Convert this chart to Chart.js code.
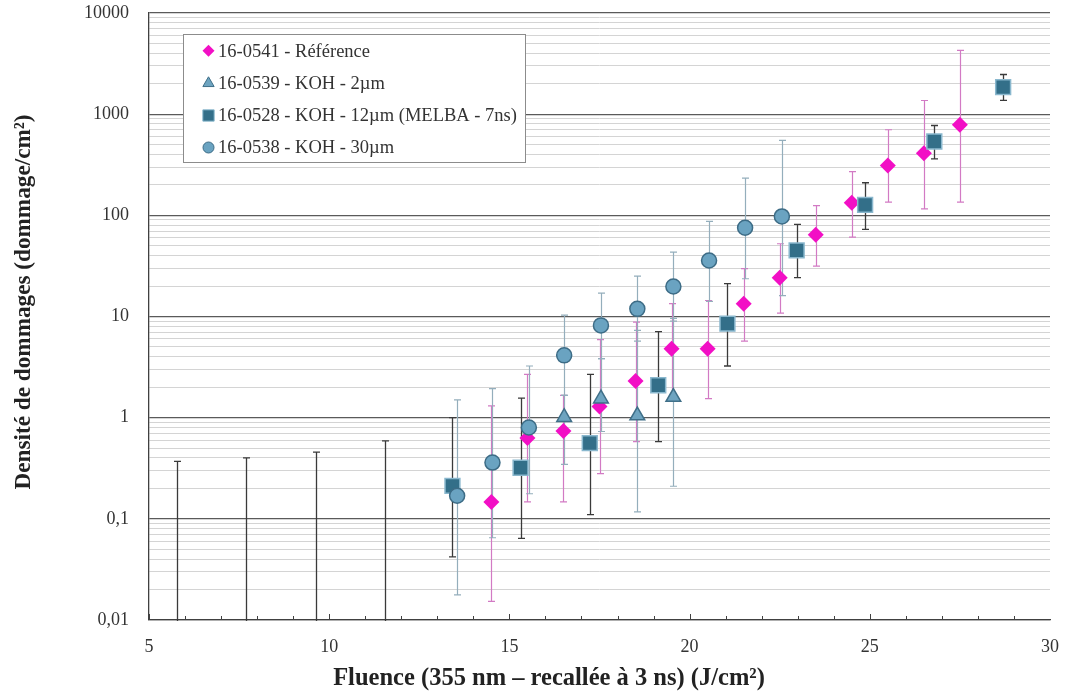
<!DOCTYPE html>
<html>
<head>
<meta charset="utf-8">
<script src="https://cdn.jsdelivr.net/npm/chart.js@4/dist/chart.umd.min.js"></script>
<style>
html,body{margin:0;padding:0;background:#fff;}
#c{display:block;}
</style>
</head>
<body>
<canvas id="c" width="1065" height="695"></canvas>
<script>
// ---- Data ----
const seriesNames = ["16-0541 - Référence", "16-0539 - KOH - 2µm", "16-0528 - KOH - 12µm (MELBA - 7ns)", "16-0538 - KOH - 30µm"];

const diamondX  = [14.5, 15.5, 16.5, 17.5, 18.5, 19.5, 20.5, 21.5, 22.5, 23.5, 24.5, 25.5, 26.5, 27.5];
const diamondY  = [0.147, 0.63, 0.74, 1.29, 2.30, 4.81, 4.8, 13.4, 24.2, 64.3, 133, 311, 412, 786];
const diamondLo = [0.0153, 0.147, 0.147, 0.28, 0.58, 1.6, 1.54, 5.7, 10.8, 31.5, 60.9, 135, 116, 135];
const diamondHi = [1.31, 2.68, 1.66, 5.9, 8.8, 13.4, 14.4, 29.7, 52.4, 125, 271, 701, 1365, 4265];

const triX  = [16.52, 17.54, 18.55, 19.55];
const triY  = [1.01, 1.54, 1.05, 1.60];
const triLo = [0.346, 0.73, 0.117, 0.21];
const triHi = [1.66, 3.83, 7.3, 9.6];

const squareX  = [5.77, 7.70, 9.62, 11.54, 13.42, 15.31, 17.23, 19.13, 21.05, 22.97, 24.87, 26.79, 28.70];
const squareY  = [null, null, null, null, 0.212, 0.32, 0.56, 2.09, 8.49, 45, 127, 537, 1849];
const squareLo = [0, 0, 0, 0, 0.042, 0.064, 0.110, 0.58, 3.24, 24.2, 72.6, 362, 1366];
const squareHi = [0.369, 0.40, 0.457, 0.59, 1.0, 1.56, 2.68, 7.1, 21.1, 81.3, 210, 773, 2467];

const circleX  = [13.55, 14.53, 15.54, 16.52, 17.54, 18.55, 19.55, 20.54, 21.54, 22.56];
const circleY  = [0.169, 0.36, 0.80, 4.13, 8.17, 11.9, 19.8, 35.8, 75.4, 97.5];
const circleLo = [0.0177, 0.065, 0.177, 1.66, 3.83, 5.7, 9.0, 14.1, 23.6, 16.1];
const circleHi = [1.5, 1.94, 3.24, 10.3, 17.0, 25.1, 43.3, 87, 233, 550];

const xMin = 5, xMax = 30;
const xLabelTicks = [5, 10, 15, 20, 25, 30];
const yMin = 0.01, yMax = 10000;
const yLabelTicks = [0.01, 0.1, 1, 10, 100, 1000, 10000];
const yTickText = ["0,01", "0,1", "1", "10", "100", "1000", "10000"];
const xTitle = "Fluence (355 nm – recallée à 3 ns) (J/cm²)";
const yTitle = "Densité de dommages (dommage/cm²)";

// ---- helpers ----
const pts = (xs, ys) => xs.map((x, i) => ({x: x, y: ys[i]}));
const isDecade = v => Math.abs(Math.log10(v) - Math.round(Math.log10(v))) < 1e-9;

const C = {
  diamond: '#F20FC5', diamondErr: '#D27AC4',
  tri: '#6EA4C0', triBorder: '#3F6F88', triErr: '#94AEBC',
  square: '#336F89', squareBorder: '#8AB8CE', squareErr: '#3A3A3A',
  circle: '#6AA3C1', circleBorder: '#3D6C86', circleErr: '#94AEBC'
};

const datasets = [
  { label: seriesNames[3], data: pts(circleX, circleY), errX: circleX, errLo: circleLo, errHi: circleHi, errColor: C.circleErr,
    pointStyle: 'circle', pointRadius: 7.5, backgroundColor: C.circle, borderColor: C.circleBorder, borderWidth: 1.5, order: 0 },
  { label: seriesNames[2], data: pts(squareX, squareY), errX: squareX, errLo: squareLo, errHi: squareHi, errColor: C.squareErr,
    pointStyle: 'rect', pointRadius: 10.5, backgroundColor: C.square, borderColor: C.squareBorder, borderWidth: 1.5, order: 1 },
  { label: seriesNames[1], data: pts(triX, triY), errX: triX, errLo: triLo, errHi: triHi, errColor: C.triErr,
    pointStyle: 'triangle', pointRadius: 8.5, backgroundColor: C.tri, borderColor: C.triBorder, borderWidth: 1.5, order: 2 },
  { label: seriesNames[0], data: pts(diamondX, diamondY), errX: diamondX, errLo: diamondLo, errHi: diamondHi, errColor: C.diamondErr,
    pointStyle: 'rectRot', pointRadius: 8, backgroundColor: C.diamond, borderColor: C.diamond, borderWidth: 0, order: 3 }
];

const errorBars = {
  id: 'errorBars',
  beforeDatasetsDraw(chart) {
    const {ctx, chartArea: a, scales: {x, y}} = chart;
    ctx.save();
    ctx.beginPath(); ctx.rect(a.left, a.top, a.right - a.left, a.bottom - a.top + 1); ctx.clip();
    const drawOrder = [3, 2, 0, 1];
    drawOrder.forEach(di => {
      const ds = chart.data.datasets[di];
      ctx.strokeStyle = ds.errColor;
      ctx.lineWidth = di === 1 ? 1.3 : 1.2;
      ds.errX.forEach((xv, i) => {
        const px = Math.round(x.getPixelForValue(xv)) + 0.5;
        const pLo = ds.errLo[i] > 0 ? y.getPixelForValue(ds.errLo[i]) : a.bottom + 5;
        const pHi = y.getPixelForValue(ds.errHi[i]);
        ctx.beginPath();
        ctx.moveTo(px, pLo); ctx.lineTo(px, pHi);
        ctx.moveTo(px - 3.5, pHi); ctx.lineTo(px + 3.5, pHi);
        if (ds.errLo[i] > 0) { ctx.moveTo(px - 3.5, pLo); ctx.lineTo(px + 3.5, pLo); }
        ctx.stroke();
      });
    });
    ctx.restore();
  }
};

function marker(ctx, style, x, y, r, fill, stroke, bw) {
  ctx.save();
  ctx.fillStyle = fill; ctx.strokeStyle = stroke; ctx.lineWidth = bw;
  ctx.beginPath();
  if (style === 'circle') { ctx.arc(x, y, r, 0, Math.PI * 2); }
  else if (style === 'rect') { const s = r * Math.SQRT1_2; ctx.rect(x - s, y - s, 2 * s, 2 * s); }
  else if (style === 'rectRot') { ctx.moveTo(x - r, y); ctx.lineTo(x, y - r); ctx.lineTo(x + r, y); ctx.lineTo(x, y + r); ctx.closePath(); }
  else if (style === 'triangle') {
    const w = r * Math.sqrt(3);
    ctx.moveTo(x, y - r); ctx.lineTo(x + w / 2, y + r / 2); ctx.lineTo(x - w / 2, y + r / 2); ctx.closePath();
  }
  ctx.fill();
  if (bw > 0) ctx.stroke();
  ctx.restore();
}

const decor = {
  id: 'decor',
  afterDraw(chart) {
    const {ctx, chartArea: a, scales: {x}} = chart;
    ctx.save();
    // inward x ticks
    ctx.strokeStyle = '#404040'; ctx.lineWidth = 1;
    for (let v = xMin; v < xMax; v++) {
      const px = Math.round(x.getPixelForValue(v)) + 0.5;
      const len = (v % 5 === 0) ? 6 : 4;
      ctx.beginPath(); ctx.moveTo(px, a.bottom); ctx.lineTo(px, a.bottom - len); ctx.stroke();
    }
    // legend
    const lx = 183.5, ly = 34.5, lw = 342, lh = 128;
    ctx.fillStyle = '#ffffff'; ctx.fillRect(lx, ly, lw, lh);
    ctx.strokeStyle = '#8c8c8c'; ctx.lineWidth = 1; ctx.strokeRect(lx, ly, lw, lh);
    const rows = [50.7, 83.3, 115.5, 147.5];
    const mk = [
      ['rectRot', 6, C.diamond, C.diamond, 0],
      ['triangle', 6.5, C.tri, C.triBorder, 1],
      ['rect', 8, C.square, C.squareBorder, 1],
      ['circle', 5.5, C.circle, C.circleBorder, 1]
    ];
    ctx.font = '18.5px "Liberation Serif"';
    ctx.textBaseline = 'middle'; ctx.textAlign = 'left';
    rows.forEach((ry, i) => {
      const m = mk[i];
      marker(ctx, m[0], 208.5, ry, m[1], m[2], m[3], m[4]);
      ctx.fillStyle = '#333333';
      ctx.fillText(seriesNames[i], 218, ry + 1);
    });
    // axis titles
    ctx.fillStyle = '#222222';
    ctx.textAlign = 'center'; ctx.textBaseline = 'middle';
    let fs = 20;
    ctx.font = 'bold ' + fs + 'px "Liberation Serif"';
    fs = fs * 432 / ctx.measureText(xTitle).width;
    ctx.font = 'bold ' + fs.toFixed(2) + 'px "Liberation Serif"';
    ctx.fillText(xTitle, 549, 679);
    let fy = 20;
    ctx.font = 'bold ' + fy + 'px "Liberation Serif"';
    fy = fy * 375 / ctx.measureText(yTitle).width;
    ctx.font = 'bold ' + fy.toFixed(2) + 'px "Liberation Serif"';
    ctx.translate(24, 302); ctx.rotate(-Math.PI / 2);
    ctx.fillText(yTitle, 0, 0);
    ctx.restore();
  }
};

new Chart(document.getElementById('c'), {
  type: 'scatter',
  data: { datasets: datasets },
  options: {
    responsive: false, animation: false, devicePixelRatio: 1,
    events: [],
    layout: { padding: { top: 13, right: 15, left: 0, bottom: 0 } },
    plugins: { legend: { display: false }, tooltip: { enabled: false } },
    scales: {
      x: {
        type: 'linear', min: xMin, max: xMax,
        afterBuildTicks: s => { s.ticks = xLabelTicks.map(v => ({value: v})); },
        afterFit: s => { s.height = 75; s.paddingLeft = 0; s.paddingRight = 0; s.paddingTop = 0; s.paddingBottom = 0; },
        grid: { display: false, drawTicks: false },
        border: { display: true, color: '#404040', width: 1.3 },
        ticks: { autoSkip: false, maxRotation: 0, padding: 16, color: '#333333',
                 font: { family: '"Liberation Serif"', size: 18 },
                 callback: v => String(v) }
      },
      y: {
        type: 'logarithmic', min: yMin, max: yMax,
        afterBuildTicks: s => {
          const t = [];
          for (let e = -2; e <= 4; e++) {
            for (let m = 1; m <= 9; m++) {
              const v = m * Math.pow(10, e);
              if (v > yMax * 1.0001) break;
              t.push({value: parseFloat(v.toPrecision(6))});
            }
          }
          s.ticks = t;
        },
        afterFit: s => { s.width = 149; s.paddingTop = 0; s.paddingBottom = 0; s.paddingLeft = 0; s.paddingRight = 0; },
        grid: {
          drawTicks: false,
          color: c => (c.tick && isDecade(c.tick.value)) ? '#5a5a5a' : '#d4d4d4',
          lineWidth: c => (c.tick && isDecade(c.tick.value)) ? 1.2 : 1
        },
        border: { display: true, color: '#404040', width: 1.3 },
        ticks: { autoSkip: false, padding: 20, color: '#333333',
                 font: { family: '"Liberation Serif"', size: 18 },
                 callback: v => { const k = yLabelTicks.findIndex(t => Math.abs(t - v) / t < 1e-6); return k >= 0 ? yTickText[k] : ''; } }
      }
    }
  },
  plugins: [errorBars, decor]
});
</script>
</body>
</html>
